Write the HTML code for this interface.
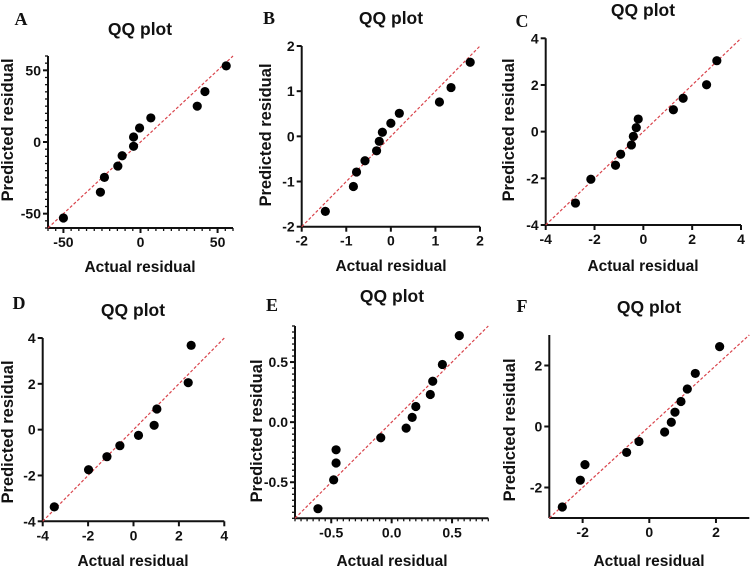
<!DOCTYPE html>
<html><head><meta charset="utf-8"><style>
html,body{margin:0;padding:0;background:#fff;width:750px;height:568px;overflow:hidden}
svg text{font-family:"Liberation Sans",sans-serif;font-weight:bold;fill:#111}
svg text.lt{font-family:"Liberation Serif",serif}
</style></head><body>
<svg id="fig" width="750" height="568" viewBox="0 0 750 568" xmlns="http://www.w3.org/2000/svg"></svg>
<script>
// Panel A data
const actualA=[-50,-26,-23.4,-14.7,-11.9,-4.5,-4.5,-0.6,6.7,36.8,41.8,55.6];
const predA=[-53,-35,-24.7,-16.8,-9.6,-3,3.5,9.8,16.8,25,35.2,53.1];
const ticksA=[-50,0,50];
// Panel B data
const actualB=[-1.47,-0.84,-0.77,-0.58,-0.32,-0.26,-0.19,0,0.19,1.09,1.35,1.78];
const predB=[-1.66,-1.11,-0.79,-0.54,-0.32,-0.11,0.09,0.29,0.51,0.76,1.08,1.64];
const ticksB=[-2,-1,0,1,2];
// Panel C data
const actualC=[-2.78,-2.15,-1.14,-0.93,-0.49,-0.41,-0.29,-0.21,1.23,1.63,2.59,3.01];
const predC=[-3.06,-2.04,-1.44,-0.97,-0.57,-0.2,0.17,0.54,0.94,1.43,2.01,3.04];
const ticksC=[-4,-2,0,2,4];
// Panel D data
const actualD=[-3.49,-1.98,-1.17,-0.6,0.22,0.91,1.03,2.41,2.54];
const predD=[-3.37,-1.75,-1.18,-0.7,-0.25,0.19,0.9,2.05,3.68];
const ticksD=[-4,-2,0,2,4];
// Panel E data
const actualE=[-0.61,-0.48,-0.46,-0.46,-0.09,0.12,0.17,0.2,0.32,0.34,0.42,0.56];
const predE=[-0.72,-0.48,-0.34,-0.23,-0.13,-0.05,0.04,0.13,0.23,0.34,0.48,0.72];
const ticksE=[-0.5,0,0.5];
// Panel F data
const actualF=[-2.61,-2.07,-1.93,-0.68,-0.31,0.46,0.66,0.77,0.95,1.14,1.38,2.11];
const predF=[-2.64,-1.76,-1.25,-0.85,-0.49,-0.18,0.14,0.47,0.82,1.23,1.74,2.62];
const ticksF=[-2,0,2];

const NS="http://www.w3.org/2000/svg";
const svg=document.getElementById('fig');
function mk(tag,attrs,parent,txt){const e=document.createElementNS(NS,tag);for(const k in attrs)e.setAttribute(k,attrs[k]);if(txt!==undefined)e.textContent=txt;(parent||svg).appendChild(e);return e;}

function panel(p){
  const g=mk('g',{});
  
  
  const sx=v=>p.x0+(v-p.dom[0])/(p.dom[1]-p.dom[0])*(p.x1-p.x0);
  const sy=v=>p.y0-(v-p.dom[0])/(p.dom[1]-p.dom[0])*(p.y0-p.y1);
  const fmt=v=>p.dec?v.toFixed(1):String(v);
  if(p.minor){
    const n=Math.round((p.dom[1]-p.dom[0])/p.minor);
    for(let i=0;i<=n;i++){const v=p.dom[0]+i*p.minor;
      const mx=mk('line',{x1:sx(v),x2:sx(v),y1:p.y0,y2:p.y0+3,stroke:'#111','stroke-width':1.3},g);
      
      const my=mk('line',{x1:p.x0-3,x2:p.x0,y1:sy(v),y2:sy(v),stroke:'#111','stroke-width':1.3},g);
      }
  }
  const ax=mk('line',{x1:p.x0,x2:p.x1,y1:p.y0,y2:p.y0,stroke:'#111','stroke-width':2},g);
  
  const ay=mk('line',{x1:p.x0,x2:p.x0,y1:p.y0,y2:p.y1,stroke:'#111','stroke-width':2},g);
  
  p.ticks.forEach(v=>{
    const t1=mk('line',{x1:sx(v),x2:sx(v),y1:p.y0,y2:p.y0+5,stroke:'#111','stroke-width':2},g);
    
    const l1=mk('text',{x:sx(v),y:p.y0+19,'text-anchor':'middle','font-size':14},g,fmt(v));
    
    const t2=mk('line',{x1:p.x0-5,x2:p.x0,y1:sy(v),y2:sy(v),stroke:'#111','stroke-width':2},g);
    
    const l2=mk('text',{x:p.x0-7,y:sy(v)+5,'text-anchor':'end','font-size':14},g,fmt(v));
    
  });
  const rl=mk('line',{x1:sx(p.dom[0]),y1:sy(p.dom[0]),x2:sx(p.dom[1]),y2:sy(p.dom[1]),stroke:'#d9434b','stroke-width':1.2,'stroke-dasharray':'3,2'},g);
  
  p.xs.forEach((v,i)=>{
    const c=mk('circle',{cx:sx(v),cy:sy(p.ys[i]),r:4.6,fill:'#000'},g);
    
  });
  const tt=mk('text',{x:p.tx,y:p.ty+1,'text-anchor':'middle','font-size':17.5},g,'QQ plot');
  
  const lt=mk('text',{x:p.lx,y:p.ly,'text-anchor':'middle','font-size':18,class:'lt'},g,p.id);
  
  const xt=mk('text',{x:p.tx,y:p.xty,'text-anchor':'middle','font-size':15.5},g,'Actual residual');
  
  const yt=mk('text',{x:0,y:0,'text-anchor':'middle','font-size':16.5,transform:`translate(${p.yx},${p.yy}) rotate(-90)`},g,'Predicted residual');
  
}
panel({id:'A',xs:actualA,ys:predA,ticks:ticksA,dom:[-60,60],minor:5,x0:48,x1:233,y0:228,y1:56,tx:140,ty:34,lx:21,ly:25,xty:272,yx:13,yy:130});
panel({id:'B',xs:actualB,ys:predB,ticks:ticksB,dom:[-2,2],x0:301.7,x1:480,y0:226.7,y1:46,tx:391,ty:23,lx:269,ly:24,xty:271,yx:271,yy:135});
panel({id:'C',xs:actualC,ys:predC,ticks:ticksC,dom:[-4,4],x0:545.7,x1:741,y0:225,y1:38.3,tx:643,ty:15,lx:522,ly:27,xty:271,yx:514,yy:130});
panel({id:'D',xs:actualD,ys:predD,ticks:ticksD,dom:[-4,4],x0:42.7,x1:224.3,y0:521.3,y1:338,tx:133,ty:315,lx:19,ly:309,xty:566,yx:13,yy:432});
panel({id:'E',xs:actualE,ys:predE,ticks:ticksE,dom:[-0.8,0.8],minor:0.05,dec:true,x0:295,x1:488.3,y0:518.3,y1:326,tx:392,ty:301,lx:272,ly:311,xty:566,yx:262,yy:431});
panel({id:'F',xs:actualF,ys:predF,ticks:ticksF,dom:[-3,3],x0:549.3,x1:749.3,y0:518,y1:335,tx:649,ty:312,lx:522,ly:312,xty:566,yx:515,yy:430});
</script>
</body></html>
